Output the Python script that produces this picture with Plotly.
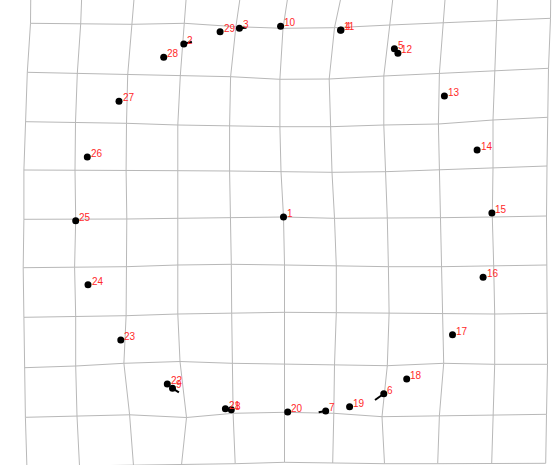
import plotly.graph_objects as go

# Deformed grid node coordinates (rows x columns)
grid_x = [
    [31.0, 82.5, 136.0, 188.0, 243.0, 290.5, 345.0, 395.5, 447.0, 498.5, 551.0],
    [30.5, 80.7, 131.7, 184.5, 235.9, 283.0, 334.5, 390.1, 443.0, 496.5, 550.5],
    [27.3, 77.3, 127.7, 180.3, 230.6, 279.9, 329.2, 383.8, 439.4, 494.7, 548.5],
    [25.7, 75.5, 126.5, 177.8, 229.6, 279.9, 331.0, 383.8, 438.4, 493.0, 547.5],
    [23.9, 75.0, 126.1, 177.8, 229.6, 281.0, 332.0, 385.6, 439.4, 493.0, 547.0],
    [23.9, 75.7, 126.8, 178.5, 230.6, 283.5, 334.5, 387.3, 440.1, 492.3, 546.5],
    [23.2, 74.6, 126.1, 177.8, 231.3, 284.5, 336.3, 388.4, 441.2, 493.7, 546.8],
    [23.9, 75.7, 126.1, 177.8, 231.7, 284.5, 336.3, 389.1, 441.9, 494.7, 547.5],
    [24.6, 75.7, 123.9, 180.0, 232.4, 284.5, 334.5, 387.3, 443.7, 494.7, 547.5],
    [25.4, 77.0, 129.6, 186.5, 233.1, 284.5, 333.8, 382.0, 439.4, 493.0, 546.5],
    [26.9, 79.5, 133.5, 181.5, 235.2, 284.5, 332.7, 384.5, 437.7, 491.7, 545.7],
]
grid_y = [
    [-26.0, -25.0, -24.7, -25.7, -22.3, -20.7, -21.3, -24.0, -26.3, -28.3, -30.7],
    [23.3, 24.0, 24.3, 23.3, 26.7, 28.3, 27.7, 25.0, 22.7, 20.7, 18.3],
    [72.3, 73.3, 75.0, 75.7, 76.7, 79.3, 79.0, 76.0, 73.3, 71.0, 68.3],
    [121.7, 122.3, 123.3, 125.0, 126.0, 126.7, 126.7, 125.0, 124.0, 120.0, 117.3],
    [170.0, 170.0, 170.0, 170.7, 171.0, 171.7, 172.3, 171.7, 170.0, 168.3, 166.0],
    [219.3, 219.3, 219.0, 218.3, 217.7, 217.0, 218.3, 218.3, 217.7, 217.0, 216.0],
    [267.7, 267.3, 266.7, 265.0, 264.3, 265.0, 266.0, 266.7, 266.7, 266.0, 265.0],
    [317.3, 316.7, 315.7, 314.0, 313.3, 312.3, 312.7, 313.3, 314.0, 314.0, 313.3],
    [367.7, 366.0, 363.3, 361.5, 363.3, 364.3, 365.0, 365.7, 363.3, 364.3, 364.3],
    [417.3, 416.0, 414.8, 417.5, 413.3, 412.3, 413.3, 416.7, 415.7, 414.8, 414.3],
    [466.7, 466.0, 465.7, 465.0, 463.7, 462.3, 463.0, 463.7, 463.7, 463.3, 463.3],
]

# Target landmarks 1..29
lm_labels = [str(i) for i in range(1, 30)]
lm_x = [283.5, 183.8, 239.4, 341.0, 394.4, 383.8, 325.7, 231.3, 172.5, 280.6,
        340.5, 397.9, 444.4, 477.1, 491.9, 483.1, 452.5, 406.7, 349.6, 287.7,
        225.4, 167.3, 120.8, 88.0, 75.7, 87.3, 119.0, 163.7, 220.1]
lm_y = [217.0, 44.0, 28.3, 30.0, 48.7, 393.7, 411.0, 409.7, 388.3, 26.3,
        30.3, 53.3, 96.0, 150.0, 213.0, 277.3, 334.7, 379.0, 406.7, 412.0,
        408.7, 384.0, 340.0, 284.7, 220.7, 157.0, 101.3, 57.3, 31.7]

# Displacement vectors (landmark index -> other end)
vec_ids = [2, 3, 6, 7, 9]
vec_x = [191.9, 246.5, 375.0, 318.7, 178.9]
vec_y = [41.7, 27.7, 400.0, 412.2, 392.3]

fig = go.Figure()

gx, gy = [], []
nr, nc = len(grid_x), len(grid_x[0])
for r in range(nr):
    gx += grid_x[r] + [None]
    gy += grid_y[r] + [None]
for c in range(nc):
    gx += [grid_x[r][c] for r in range(nr)] + [None]
    gy += [grid_y[r][c] for r in range(nr)] + [None]
fig.add_trace(go.Scatter(x=gx, y=gy, mode="lines",
                         line=dict(color="#b8b8b8", width=1),
                         hoverinfo="skip", showlegend=False))

sx, sy = [], []
for i, k in enumerate(vec_ids):
    sx += [lm_x[k - 1], vec_x[i], None]
    sy += [lm_y[k - 1], vec_y[i], None]
fig.add_trace(go.Scatter(x=sx, y=sy, mode="lines",
                         line=dict(color="black", width=2),
                         hoverinfo="skip", showlegend=False))

fig.add_trace(go.Scatter(x=lm_x, y=lm_y, mode="markers",
                         marker=dict(color="black", size=7),
                         text=lm_labels, showlegend=False))

for lab, x, y in zip(lm_labels, lm_x, lm_y):
    fig.add_annotation(x=x, y=y, text=lab, showarrow=False,
                       xanchor="left", yanchor="middle", xshift=1.5, yshift=3.5,
                       font=dict(family="Liberation Sans, Arial", size=10, color="#ff2a2a"))

fig.update_layout(
    width=552, height=465,
    margin=dict(l=0, r=0, t=0, b=0),
    paper_bgcolor="white", plot_bgcolor="white",
    xaxis=dict(range=[0, 552], visible=False, fixedrange=True),
    yaxis=dict(range=[465, 0], visible=False, fixedrange=True),
)

fig.write_html("out.html",
               config={"displayModeBar": False, "staticPlot": True},
               post_script="document.body.style.margin='0px';document.body.style.overflow='hidden';")
